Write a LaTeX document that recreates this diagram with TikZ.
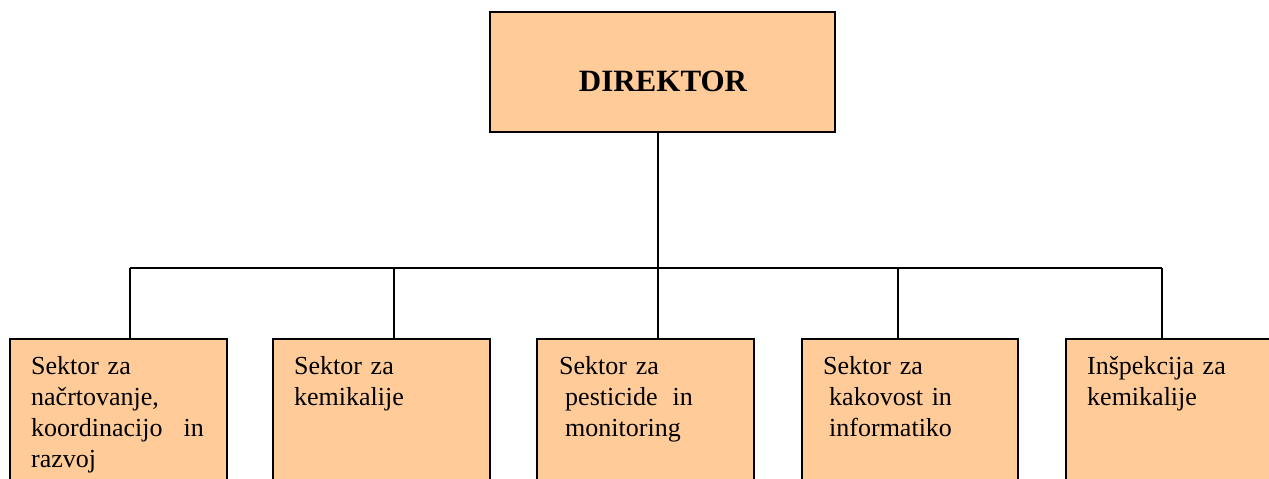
\documentclass[tikz,border=0pt]{standalone}
\usepackage{fontspec}
\setmainfont{Liberation Serif}
\definecolor{boxfill}{HTML}{FFCC99}
\begin{document}
\begin{tikzpicture}[x=1pt,y=-1pt,
  orgbox/.style={draw=black,line width=1.6pt,fill=boxfill,rectangle,inner sep=0pt},
  topbox/.style={orgbox,minimum width=345pt,minimum height=120pt},
  unitbox/.style={orgbox,minimum width=217pt,minimum height=181pt},
  unittext/.style={anchor=base west,inner sep=0pt,align=left,text width=200pt,
    font=\fontsize{26}{31}\selectfont},
  conn/.style={line width=1.6pt,draw=black}]
\clip (0,0) rectangle (1269,479);
\fill[white] (0,0) rectangle (1269,479);
% boxes
\node[topbox] (top) at (662.5,72) {};
\node[anchor=base,inner sep=0pt,font=\fontsize{31}{36}\selectfont\bfseries] (toptext) at (663,91) {DIREKTOR};
\node[unitbox] (b1) at (118.5,429.5) {};
\node[unitbox] (b2) at (381.5,429.5) {};
\node[unitbox] (b3) at (645.5,429.5) {};
\node[unitbox,minimum width=216pt] (b4) at (910,429.5) {};
\node[unitbox] (b5) at (1174.5,429.5) {};
% bus coordinates
\coordinate (bus1) at (130,268);
\coordinate (bus2) at (394,268);
\coordinate (bus3) at (658,268);
\coordinate (bus4) at (898,268);
\coordinate (bus5) at (1162,268);
% connectors
\draw[conn] (bus3) -- (bus3 |- top.south);
\draw[conn] (bus1) -- (bus5);
\draw[conn] (bus1) -- (bus1 |- b1.north);
\draw[conn] (bus2) -- (bus2 |- b2.north);
\draw[conn] (bus3) -- (bus3 |- b3.north);
\draw[conn] (bus4) -- (bus4 |- b4.north);
\draw[conn] (bus5) -- (bus5 |- b5.north);
% texts
\node[unittext] (t1) at (31,374) {Sektor za\\na\v{c}rtovanje,\\koordinacijo\hspace{21pt}in\\razvoj};
\node[unittext] (t2) at (294,374) {Sektor za\\kemikalije};
\node[unittext] (t3) at (559,374) {Sektor za\\\hspace*{6pt}pesticide\hspace{15pt}in\\\hspace*{6pt}monitoring};
\node[unittext] (t4) at (823,374) {Sektor za\\\hspace*{6pt}kakovost in\\\hspace*{6pt}informatiko};
\node[unittext] (t5) at (1087,374) {In\v{s}pekcija za\\kemikalije};
\end{tikzpicture}
\end{document}
